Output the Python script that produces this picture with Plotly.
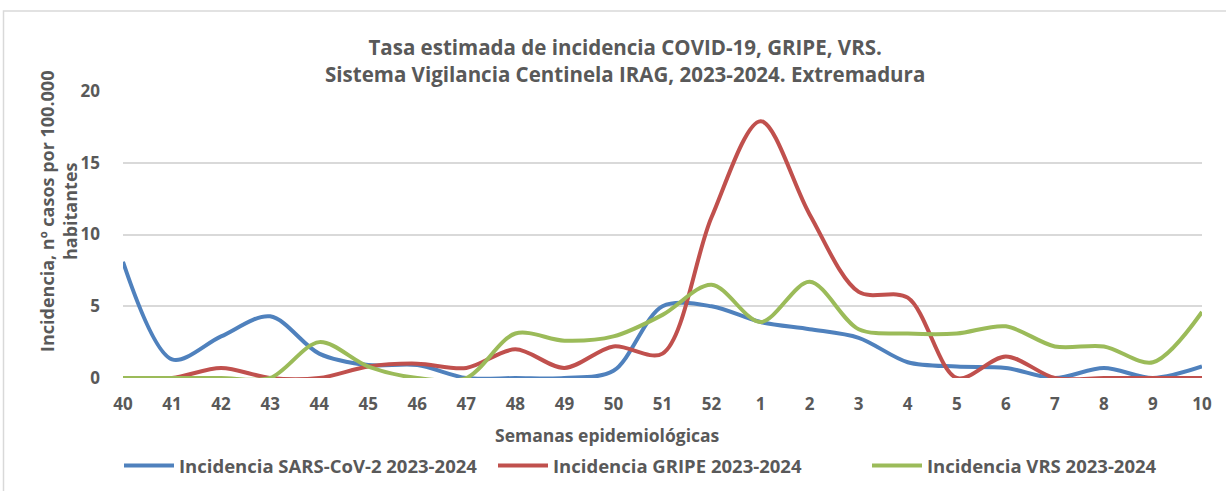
import plotly.graph_objects as go

weeks = ["40", "41", "42", "43", "44", "45", "46", "47", "48", "49", "50", "51", "52",
         "1", "2", "3", "4", "5", "6", "7", "8", "9", "10"]
sars_cov2 = [8.1, 1.3, 2.9, 4.3, 1.7, 0.9, 0.9, 0.0, 0.0, 0.0, 0.5, 5.0, 5.0,
             3.9, 3.4, 2.8, 1.1, 0.8, 0.7, 0.0, 0.7, 0.0, 0.8]
gripe = [0.0, 0.0, 0.7, 0.0, 0.0, 0.8, 1.0, 0.7, 2.0, 0.7, 2.2, 1.7, 11.2,
         17.9, 11.4, 6.0, 5.6, 0.0, 1.5, 0.0, 0.0, 0.0, 0.0]
vrs = [0.0, 0.0, 0.0, 0.0, 2.5, 0.8, 0.0, 0.0, 3.1, 2.6, 2.9, 4.4, 6.5,
       3.9, 6.7, 3.4, 3.1, 3.1, 3.6, 2.2, 2.2, 1.1, 4.6]
series_names = ["Incidencia SARS-CoV-2 2023-2024", "Incidencia GRIPE 2023-2024",
                "Incidencia VRS 2023-2024"]
colors = ["#4F81BD", "#C0504D", "#9BBB59"]
y_ticks = [0, 5, 10, 15, 20]

FONT = "'Open Sans', Lato, sans-serif"
GRAY = "#595959"

fig = go.Figure()
for name, vals, col in zip(series_names, [sars_cov2, gripe, vrs], colors):
    fig.add_trace(go.Scatter(
        x=list(range(len(weeks))), y=vals, name=name, mode="lines",
        line=dict(color=col, width=4, shape="spline", smoothing=0.9),
        hoverinfo="x+y+name"))

L, R, T, B = 123, 1202, 91, 378
W, H = 1226, 491
def px(xp):
    return (xp - L) / (R - L)
def py(yp):
    return (B - yp) / (B - T)

fig.update_layout(
    width=W, height=H,
    margin=dict(l=L, r=W - R, t=T, b=H - B, autoexpand=False),
    paper_bgcolor="white", plot_bgcolor="white",
    font=dict(family=FONT, color=GRAY, size=16),
    showlegend=True,
    legend=dict(orientation="h", x=px(119), xanchor="left", y=py(466), yanchor="middle",
                font=dict(family=FONT, size=18.5, color=GRAY, weight="bold"),
                itemwidth=50, entrywidth=309, entrywidthmode="pixels",
                tracegroupgap=0, bgcolor="rgba(0,0,0,0)"),
    xaxis=dict(range=[0, len(weeks) - 1], tickmode="array",
               tickvals=list(range(len(weeks))), ticktext=weeks,
               showgrid=False, zeroline=False, showline=False, ticks="",
               tickfont=dict(family=FONT, size=17, color=GRAY, weight="bold"),
               ticklabelstandoff=14, fixedrange=True),
    yaxis=dict(range=[0, 20], tickmode="array", tickvals=y_ticks,
               showgrid=True, gridcolor="#D9D9D9", gridwidth=2, zeroline=False,
               showline=False, ticks="",
               tickfont=dict(family=FONT, size=17, color=GRAY, weight="bold"),
               ticklabelstandoff=22, fixedrange=True),
)

fig.add_annotation(text="Tasa estimada de incidencia COVID-19, GRIPE, VRS.<br>"
                        "Sistema Vigilancia Centinela IRAG, 2023-2024. Extremadura",
                   xref="paper", yref="paper", x=px(625), y=py(60),
                   xanchor="center", yanchor="middle", showarrow=False,
                   font=dict(family=FONT, size=20.5, color=GRAY, weight="bold"))
fig.add_annotation(text="Semanas epidemiológicas", xref="paper", yref="paper",
                   x=px(607), y=py(435), xanchor="center", yanchor="middle",
                   showarrow=False,
                   font=dict(family=FONT, size=17.5, color=GRAY, weight="bold"))
fig.add_annotation(text="Incidencia, nº casos por 100.000<br>habitantes", xref="paper",
                   yref="paper", x=px(58), y=py(212), xanchor="center",
                   yanchor="middle", textangle=-90, showarrow=False,
                   font=dict(family=FONT, size=18, color=GRAY, weight="bold"))

fig.add_shape(type="rect", xref="paper", yref="paper",
              x0=px(3.5), x1=px(1235), y0=py(500), y1=py(11),
              line=dict(color="#D9D9D9", width=1.5), fillcolor="rgba(0,0,0,0)",
              layer="below")

fig.write_html("out.html", config={"displayModeBar": False},
               post_script="document.body.style.margin='0';document.body.style.padding='0';")
